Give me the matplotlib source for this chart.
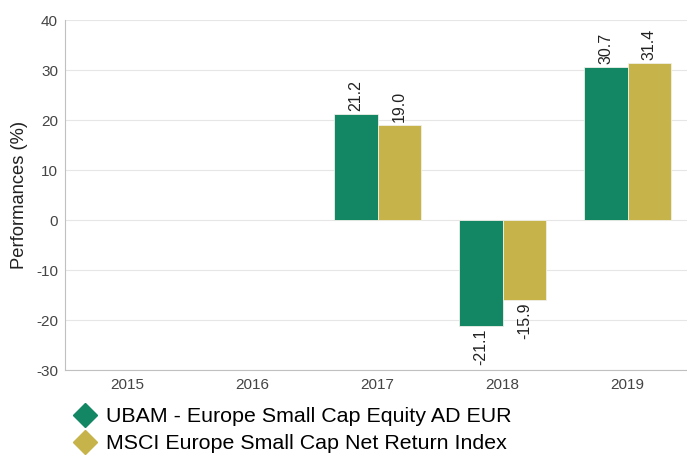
import numpy as np
import matplotlib.pyplot as plt
from matplotlib.lines import Line2D

plt.rcParams['font.family'] = ['Liberation Sans', 'DejaVu Sans']
plt.rcParams['axes.unicode_minus'] = False

years = ['2015', '2016', '2017', '2018', '2019']
fund = [np.nan, np.nan, 21.2, -21.1, 30.7]
index = [np.nan, np.nan, 19.0, -15.9, 31.4]
names = ['UBAM - Europe Small Cap Equity AD EUR',
         'MSCI Europe Small Cap Net Return Index']
colors = ['#138664', '#c6b34a']

fig = plt.figure(figsize=(6.87, 4.55), dpi=100)
ax = fig.add_axes([65 / 687, 1 - 370 / 455, 625 / 687, 350 / 455])

xx = np.arange(len(years))
w = 0.35
for off, vals, col in [(-w / 2, fund, colors[0]), (w / 2, index, colors[1])]:
    ax.bar(xx + off, vals, width=w, color=col, edgecolor='#f0f0e8', linewidth=0.6, zorder=3)
    for x, v in zip(xx + off, vals):
        if np.isnan(v):
            continue
        ax.annotate('{:.1f}'.format(v), (x, v), xytext=(0, 2 if v > 0 else -2),
                    textcoords='offset points', rotation=90, ha='center',
                    va='bottom' if v > 0 else 'top', fontsize=11.5, color='#222222')

ax.set_xlim(-0.5, 4.5)
ax.set_ylim(-30, 40)
ax.set_yticks(range(-30, 41, 10))
ax.set_xticks(xx)
ax.set_xticklabels(years)
ax.grid(axis='y', color='#e6e6e6', linewidth=0.8, zorder=0)
ax.tick_params(length=0, labelsize=11, labelcolor='#444444')
ax.tick_params(axis='y', pad=5)
ax.tick_params(axis='x', pad=6)
for s in ['top', 'right']:
    ax.spines[s].set_visible(False)
for s in ['left', 'bottom']:
    ax.spines[s].set_color('#c0c0c0')
    ax.spines[s].set_linewidth(0.8)
ax.set_ylabel('Performances (%)', fontsize=13.2, color='#222222', labelpad=6)

handles = [Line2D([], [], marker='D', linestyle='none', markersize=12,
                  markerfacecolor=c, markeredgecolor=c) for c in colors]
fig.legend(handles, names, loc='upper left', bbox_to_anchor=(72 / 687, 1 - 407 / 455),
           frameon=False, fontsize=15.4, handletextpad=0.4, labelspacing=0.38,
           handlelength=1.2, borderaxespad=0, borderpad=0)

fig.savefig('out.png', dpi=100)
